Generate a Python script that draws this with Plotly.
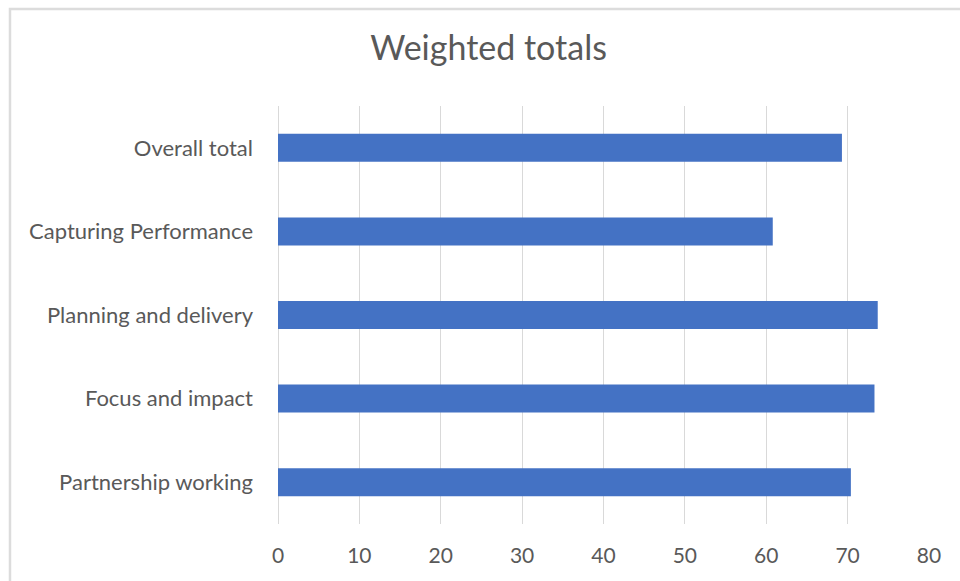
import plotly.graph_objects as go

categories = ["Partnership working", "Focus and impact", "Planning and delivery",
              "Capturing Performance", "Overall total"]
values = [70.4, 73.3, 73.7, 60.8, 69.3]
x_ticks = [0, 10, 20, 30, 40, 50, 60, 70, 80]

fig = go.Figure(go.Bar(
    y=categories, x=values, orientation="h",
    marker=dict(color="#4472C4", line=dict(width=0)),
))

fig.update_layout(
    width=960, height=581,
    margin=dict(l=278, r=31, t=106, b=57),
    paper_bgcolor="white", plot_bgcolor="white",
    font=dict(family="Lato, Open Sans, sans-serif", color="#595959", size=21),
    title=dict(text="Weighted totals", x=0.509, xanchor="center", y=0.917, yanchor="middle",
               font=dict(size=34, color="#595959")),
    bargap=0.665,
    showlegend=False,
    shapes=[dict(type="rect", xref="paper", yref="paper",
                 x0=-0.4117, x1=1.2, y0=-0.3, y1=1.232,
                 line=dict(color="#dcdcdc", width=2.5), fillcolor="rgba(0,0,0,0)")],
)
fig.update_xaxes(range=[0, 80], tickvals=x_ticks, showgrid=True, gridcolor="#d9d9d9",
                 gridwidth=1.3, zeroline=True, zerolinecolor="#d9d9d9", zerolinewidth=1.3,
                 showline=False, ticks="", ticklabelstandoff=17,
                 tickfont=dict(size=21, color="#595959"))
fig.update_yaxes(showgrid=False, zeroline=False, showline=False, ticks="",
                 ticklabelstandoff=24, tickfont=dict(size=22, color="#595959"))

fig.write_html("out.html")
